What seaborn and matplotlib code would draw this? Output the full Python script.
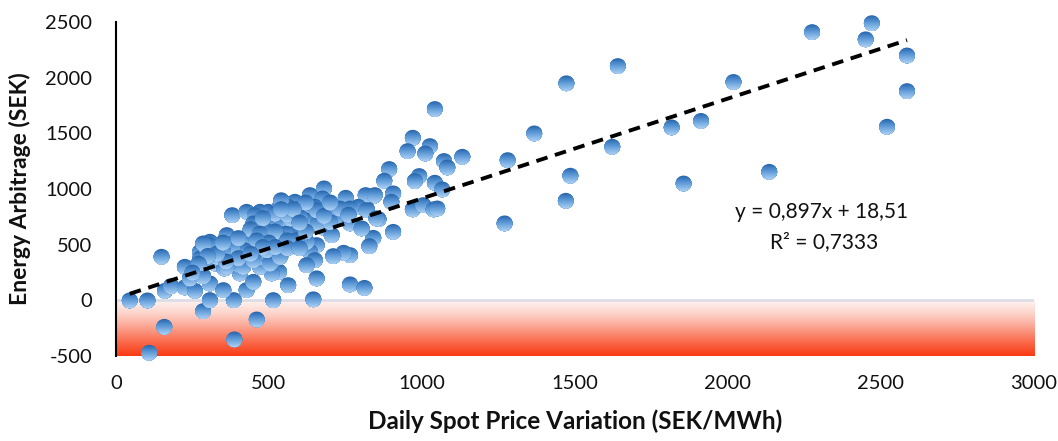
import numpy as np
import pandas as pd
import matplotlib
matplotlib.use("Agg")
import matplotlib.pyplot as plt
import seaborn as sns
from matplotlib.path import Path
from matplotlib.colors import LinearSegmentedColormap

# ---------------- data ----------------
spot_variation = [
    2470, 2275, 2450, 2585, 2585, 2520, 2135, 1855, 2018, 1912, 1816, 1640, 1622, 1472, 1485, 1470, 1367, 1280, 1270, 1132,
    1042, 970, 953, 1026, 1011, 1072, 1083, 893, 877, 991, 977, 1042, 1066, 906, 900, 970, 1004, 1038, 1050, 841,
    819, 858, 906, 841, 828, 765, 744, 710, 765, 812, 721, 765, 803, 710,
    680, 634, 675, 751, 816, 846, 380, 427, 471, 498, 552, 585, 563, 601, 650, 699, 732, 792, 819, 851, 645, 454, 449,
    498, 503, 536, 585, 612, 650, 683, 705, 656, 634, 650, 623, 656, 533, 509, 579, 541, 481, 509, 465, 405, 383, 340,
    307, 362, 416, 438, 520, 487, 558, 601, 530, 623, 471, 324, 307, 275,
    45, 103, 149, 158, 109, 285, 387, 460, 514, 385, 307, 351, 160, 180, 225, 258, 225, 261, 275, 297, 307, 242, 285,
    354, 405, 427, 449, 563, 438, 471, 503,
    536, 460, 569, 623, 661, 699, 656, 765, 362, 329, 285, 383, 427, 460, 493, 536, 590, 416, 449,
    520, 560, 600, 540, 620, 580, 480, 440, 470, 520, 560, 500, 460, 420, 380, 350, 400, 360, 330, 300, 560, 600, 620,
    680, 700, 760, 520, 480, 440, 400, 350, 270, 250, 600, 540,
]
arbitrage = [
    2490, 2410, 2345, 2200, 1880, 1560, 1155, 1050, 1962, 1612, 1554, 2105, 1380, 1950, 1120, 895, 1500, 1260, 692, 1290,
    1719, 1461, 1341, 1386, 1320, 1252, 1195, 1180, 1075, 1117, 1072, 1057, 997, 961, 886, 818, 856, 818, 826, 937,
    826, 730, 616, 562, 488, 407, 428, 398, 144, 113, 737, 692, 647, 841,
    1006, 946, 916, 922, 946, 946, 766, 796, 796, 796, 871, 886, 841, 826, 841, 811, 826, 841, 811, 737, 10, 766, 692,
    661, 737, 721, 647, 692, 706, 647, 587, 497, 437, 362, 317, 198, 257, 243, 497, 422, 422, 347, 362, 243, 422, 482,
    527, 587, 557, 497, 692, 632, 602, 587, 572, 527, 302, 332, 152, 437,
    0, 0, 392, -237, -470, -96, -350, -171, 3, 3, 3, 93, 86, 128, 117, 86, 302, 302, 377, 467, 497, 198, 218,
    287, 317, 93, 167, 137, 572, 392, 332,
    841, 686, 737, 721, 692, 706, 811, 826, 302, 392, 512, 512, 542, 482, 452, 392, 542, 302, 362,
    780, 770, 750, 900, 880, 820, 740, 640, 600, 620, 540, 520, 540, 450, 480, 440, 380, 350, 420, 400, 470, 470, 620,
    760, 880, 770, 480, 480, 420, 560, 520, 330, 250, 700, 820,
]
trend_slope = 0.897
trend_intercept = 18.51
equation_text = "y = 0,897x + 18,51"
r2_text = "R\u00b2 = 0,7333"
x_ticks = [0, 500, 1000, 1500, 2000, 2500, 3000]
y_ticks = [-500, 0, 500, 1000, 1500, 2000, 2500]
x_label = "Daily Spot Price Variation (SEK/MWh)"
y_label = "Energy Arbitrage (SEK)"

# ---------------- style ----------------
sns.set_theme(style="white")
plt.rcParams["font.family"] = ["Lato", "DejaVu Sans"]

fig = plt.figure(figsize=(10.58, 4.41), dpi=100)
ax = fig.add_axes([0.1096, 0.1927, 0.8677, 0.7574])

df = pd.DataFrame({"x": spot_variation, "y": arbitrage})

# red gradient band below zero
grad = np.linspace(0, 1, 256).reshape(-1, 1)
bg_cmap = LinearSegmentedColormap.from_list(
    "neg", ["#FFF3F1", "#FDD2C8", "#FBA08C", "#FA6A4C", "#F93A12"])
ax.imshow(grad, extent=[0, 3000, -500, 0], aspect="auto", cmap=bg_cmap,
          origin="upper", zorder=0, interpolation="bilinear")
ax.axhline(0, color="#DDDDE8", lw=2.0, zorder=1)

# scatter
sns.scatterplot(data=df, x="x", y="y", ax=ax, s=128, color="#5B9AD8",
                linewidth=0, zorder=3, legend=False, clip_on=False)
coll = ax.collections[-1]

# give each marker a vertical gradient (dark top -> light bottom)
N = 14
def lower_part(yk):
    a = np.arcsin(np.clip(2 * yk, -1, 1))
    t = np.linspace(np.pi - a, 2 * np.pi + a, 64)
    v = np.column_stack([0.5 * np.cos(t), 0.5 * np.sin(t)])
    v = np.vstack([v, v[:1]])
    codes = [Path.MOVETO] + [Path.LINETO] * (len(v) - 2) + [Path.CLOSEPOLY]
    return Path(v, codes)

mk_cmap = LinearSegmentedColormap.from_list(
    "mk", ["#2A68AD", "#4F8DCF", "#79AEE2", "#A8CDF2"])
band_paths = [lower_part(0.5 - k / N) for k in range(N)]
band_colors = [mk_cmap(k / (N - 1)) for k in range(N)]
offs = np.asarray(coll.get_offsets())
coll.set_paths(band_paths)
coll.set_offsets(np.repeat(offs, N, axis=0))
coll.set_facecolor(band_colors)
coll.set_edgecolor("none")
coll.set_clip_on(False)

# trendline from the published equation
xl = np.array([df["x"].min(), df["x"].max()], dtype=float)
sns.lineplot(x=xl, y=trend_intercept + trend_slope * xl, ax=ax,
             color="black", lw=2.8, zorder=4)
ax.lines[-1].set_linestyle((0, (3.0, 2.0)))

ax.text(2305, 793, equation_text, ha="center", va="center", fontsize=15, color="#111111", zorder=5)
ax.text(2315, 524, r2_text, ha="center", va="center", fontsize=15, color="#111111", zorder=5)

# axes
ax.set_xlim(0, 3000)
ax.set_ylim(-500, 2500)
ax.set_xticks(x_ticks)
ax.set_yticks(y_ticks)
ax.set_xticklabels([str(v) for v in x_ticks])
ax.set_yticklabels([str(v) for v in y_ticks])
ax.tick_params(axis="both", length=0, labelsize=14.5, colors="#111111")
ax.tick_params(axis="y", pad=17)
ax.tick_params(axis="x", pad=14)
for side in ["top", "right", "bottom"]:
    ax.spines[side].set_visible(False)
ax.spines["left"].set_color("black")
ax.spines["left"].set_linewidth(1.5)
ax.set_xlabel(x_label, fontsize=17.5, fontweight="bold", color="#111111", labelpad=12)
ax.set_ylabel(y_label, fontsize=16.5, fontweight="bold", color="#111111", labelpad=10)
ax.grid(False)

fig.savefig("out.png", dpi=100)
